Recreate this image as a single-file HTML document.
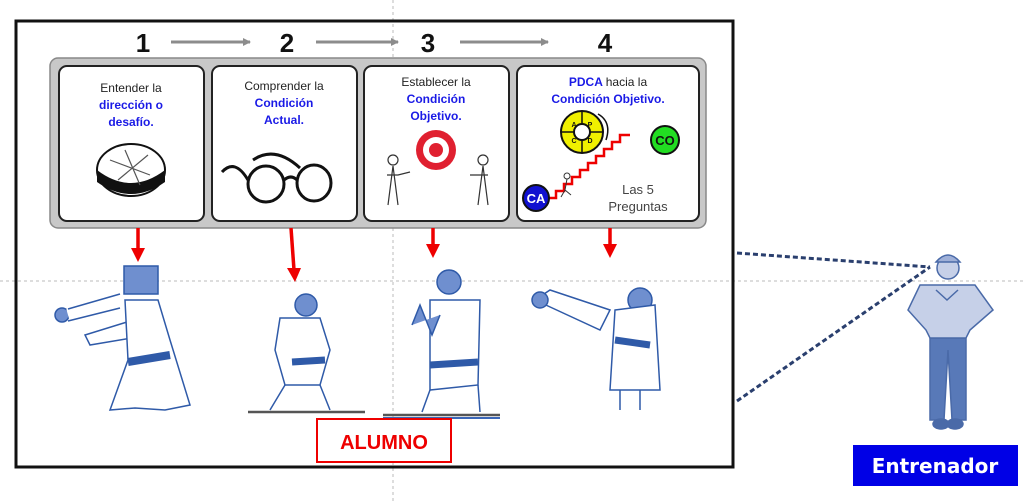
<!DOCTYPE html>
<html><head><meta charset="utf-8"><style>
html,body{margin:0;padding:0;background:#fff;}
body{width:1024px;height:501px;overflow:hidden;position:relative;font-family:"Liberation Sans",sans-serif;}
</style></head><body>
<svg width="1024" height="501" viewBox="0 0 1024 501" xmlns="http://www.w3.org/2000/svg" style="position:absolute;left:0;top:0">
<defs>
<marker id="ga" markerWidth="8" markerHeight="8" refX="7" refY="4" orient="auto" markerUnits="userSpaceOnUse"><path d="M0,0 L8,4 L0,8 z" fill="#8c8c8c"/></marker>
</defs>
<line x1="0" y1="281" x2="1024" y2="281" stroke="#bbb" stroke-dasharray="3,3"/>
<line x1="393" y1="0" x2="393" y2="501" stroke="#bbb" stroke-dasharray="3,3"/>
<rect x="16" y="21" width="717" height="446" fill="none" stroke="#111" stroke-width="3"/>
<g font-family="Liberation Sans" font-weight="bold" font-size="26" fill="#111" text-anchor="middle">
<text x="143" y="52">1</text><text x="287" y="52">2</text><text x="428" y="52">3</text><text x="605" y="52">4</text>
</g>
<g stroke="#8c8c8c" stroke-width="3" marker-end="url(#ga)">
<line x1="171" y1="42" x2="250" y2="42"/><line x1="316" y1="42" x2="398" y2="42"/><line x1="460" y1="42" x2="548" y2="42"/>
</g>
<rect x="50" y="58" width="656" height="170" rx="8" fill="#c8c8c8" stroke="#888" stroke-width="1.5"/>
<g fill="#fff" stroke="#222" stroke-width="2">
<rect x="59" y="66" width="145" height="155" rx="8"/>
<rect x="212" y="66" width="145" height="155" rx="8"/>
<rect x="364" y="66" width="145" height="155" rx="8"/>
<rect x="517" y="66" width="182" height="155" rx="8"/>
</g>
<g font-family="Liberation Sans,DejaVu Sans" font-size="12" text-anchor="middle">
<text x="131" y="92" fill="#222">Entender la</text>
<text x="131" y="109" fill="#1a1ae6" font-weight="bold">dirección o</text>
<text x="131" y="126" fill="#1a1ae6" font-weight="bold">desafío.</text>
<text x="284" y="90" fill="#222">Comprender la</text>
<text x="284" y="107" fill="#1a1ae6" font-weight="bold">Condición</text>
<text x="284" y="124" fill="#1a1ae6" font-weight="bold">Actual.</text>
<text x="436" y="86" fill="#222">Establecer la</text>
<text x="436" y="103" fill="#1a1ae6" font-weight="bold">Condición</text>
<text x="436" y="120" fill="#1a1ae6" font-weight="bold">Objetivo.</text>
<text x="608" y="86" fill="#1a1ae6" font-weight="bold">PDCA <tspan fill="#222" font-weight="normal">hacia la</tspan></text>
<text x="608" y="103" fill="#1a1ae6" font-weight="bold">Condición  Objetivo.</text>
</g>
<ellipse cx="131" cy="170" rx="34" ry="26" fill="#fff" stroke="#111" stroke-width="2"/>
<path d="M97,170 L97,182 Q131,206 165,182 L165,170 Q131,196 97,170z" fill="#111"/>
<path d="M110,160 L150,175 M125,150 L140,185 M118,180 L148,155" stroke="#555" stroke-width="1.2"/>
<g fill="none" stroke="#111" stroke-width="3">
<ellipse cx="266" cy="184" rx="18" ry="18"/><ellipse cx="314" cy="183" rx="17" ry="18"/>
<path d="M284,180 Q291,174 297,180"/><path d="M248,180 Q235,158 222,172"/><path d="M300,168 Q275,145 253,160"/>
</g>
<circle cx="436" cy="150" r="20" fill="#e02030"/><circle cx="436" cy="150" r="13" fill="#fff"/><circle cx="436" cy="150" r="7" fill="#e02030"/>
<g fill="none" stroke="#333" stroke-width="1.2">
<circle cx="393" cy="160" r="5"/><path d="M393,166 L388,205 M393,166 L398,205 M387,175 L398,175 L410,172"/>
<circle cx="483" cy="160" r="5"/><path d="M483,166 L478,205 M483,166 L488,205 M470,175 L488,175"/>
</g>
<circle cx="582" cy="132" r="21" fill="#f0f000" stroke="#111" stroke-width="2"/>
<circle cx="582" cy="132" r="8" fill="#fff" stroke="#111" stroke-width="2"/>
<path d="M582,111 V124 M582,140 V153 M561,132 H574 M590,132 H603" stroke="#111" stroke-width="1.5"/>
<path d="M598,114 Q612,122 606,140" fill="none" stroke="#111" stroke-width="1.5"/>
<g font-size="7" font-weight="bold" text-anchor="middle" fill="#111"><text x="574" y="127">A</text><text x="590" y="127">P</text><text x="574" y="143">C</text><text x="590" y="143">D</text></g>
<path d="M548,198 h8 v-7 h8 v-7 h8 v-7 h8 v-7 h8 v-7 h8 v-7 h8 v-7 h8 v-7 h8 v-7 h10" fill="none" stroke="#e00" stroke-width="2.5"/>
<circle cx="567" cy="176" r="3" fill="none" stroke="#333"/><path d="M567,179 L565,190 M565,190 L561,197 M565,190 L571,195" stroke="#333" fill="none"/>
<circle cx="536" cy="198" r="13" fill="#1010d0" stroke="#111" stroke-width="2"/>
<text x="536" y="203" fill="#fff" font-size="13" font-weight="bold" text-anchor="middle">CA</text>
<circle cx="665" cy="140" r="14" fill="#22dd22" stroke="#111" stroke-width="2"/>
<text x="665" y="145" fill="#111" font-size="13" font-weight="bold" text-anchor="middle">CO</text>
<text x="638" y="194" fill="#444" font-size="13" text-anchor="middle">Las 5</text>
<text x="638" y="211" fill="#444" font-size="13" text-anchor="middle">Preguntas</text>
<g stroke="#e00" stroke-width="3.5" fill="#e00">
<line x1="138" y1="228" x2="138" y2="250"/><path d="M131,248 L145,248 L138,262z" stroke="none"/>
<line x1="291" y1="228" x2="294" y2="270"/><path d="M287,268 L301,268 L295,282z" stroke="none"/>
<line x1="433" y1="228" x2="433" y2="246"/><path d="M426,244 L440,244 L433,258z" stroke="none"/>
<line x1="610" y1="228" x2="610" y2="246"/><path d="M603,244 L617,244 L610,258z" stroke="none"/>
</g>
<g stroke="#2f5aa8" stroke-width="1.5" fill="#fff">
<path d="M85,335 L140,318 L150,335 L90,345z"/>
<path d="M125,300 L158,300 L170,340 L190,405 L165,410 L135,408 L110,410 L128,360z"/>
<rect x="124" y="266" width="34" height="28" fill="#6f8fcf"/>
<circle cx="62" cy="315" r="7" fill="#6f8fcf"/>
<path d="M68,315 L120,300" stroke-width="12" stroke="#fff"/><path d="M68,309 L120,294 M68,321 L120,308"/>
<path d="M128,362 L170,355" stroke="#2f5aa8" stroke-width="8"/>
<circle cx="306" cy="305" r="11" fill="#6f8fcf"/>
<path d="M280,318 L320,318 L330,350 L320,385 L285,385 L275,350z"/>
<path d="M292,362 L325,360" stroke-width="7"/>
<path d="M285,385 L270,410 M320,385 L330,410"/>
<circle cx="449" cy="282" r="12" fill="#6f8fcf"/>
<path d="M430,300 L480,300 L478,385 L430,390z"/>
<path d="M412,325 L420,305 L432,335 L440,315" fill="#6f8fcf"/>
<path d="M430,365 L478,362" stroke-width="7"/>
<path d="M430,390 L422,412 M478,385 L480,412"/>
<circle cx="640" cy="300" r="12" fill="#6f8fcf"/>
<path d="M535,300 L600,330 L610,310 L550,290z"/>
<circle cx="540" cy="300" r="8" fill="#6f8fcf"/>
<path d="M615,310 L655,305 L660,390 L610,390z"/>
<path d="M615,340 L650,345" stroke-width="7"/>
<path d="M620,390 L620,410 M640,390 L640,410"/>
</g>
<g stroke="#555" stroke-width="2.5">
<line x1="248" y1="412" x2="365" y2="412"/><line x1="383" y1="415" x2="500" y2="415"/>
</g>
<line x1="383" y1="418" x2="500" y2="418" stroke="#3a66b8" stroke-width="2"/>
<rect x="317" y="419" width="134" height="43" fill="#fff" stroke="#e00" stroke-width="2"/>
<text x="384" y="449" fill="#e00" font-size="20" font-weight="bold" text-anchor="middle">ALUMNO</text>
<g stroke="#2a3f6e" stroke-width="3" stroke-dasharray="5,3">
<line x1="737" y1="253" x2="930" y2="267"/><line x1="737" y1="401" x2="930" y2="267"/>
</g>
<g stroke="#4a6aa8" stroke-width="1.5">
<path d="M930,338 L930,420 L944,420 L948,350 L952,420 L966,420 L966,338z" fill="#5879b8"/>
<path d="M920,285 L975,285 L993,310 L970,330 L966,338 L930,338 L926,330 L908,310z" fill="#c6d0e8"/>
<path d="M936,290 L947,300 L958,290" fill="none"/>
<circle cx="948" cy="268" r="11" fill="#c6d0e8"/>
<path d="M936,262 Q948,248 960,262z" fill="#9fb0d8"/>
<ellipse cx="941" cy="424" rx="8" ry="5" fill="#4a6aa8"/><ellipse cx="955" cy="424" rx="8" ry="5" fill="#4a6aa8"/>
</g>
<rect x="853" y="445" width="165" height="41" fill="#0000e6"/>
<text x="935" y="473" fill="#fff" font-size="20" font-weight="bold" text-anchor="middle" font-family="DejaVu Sans,sans-serif">Entrenador</text>
</svg>
</body></html>
